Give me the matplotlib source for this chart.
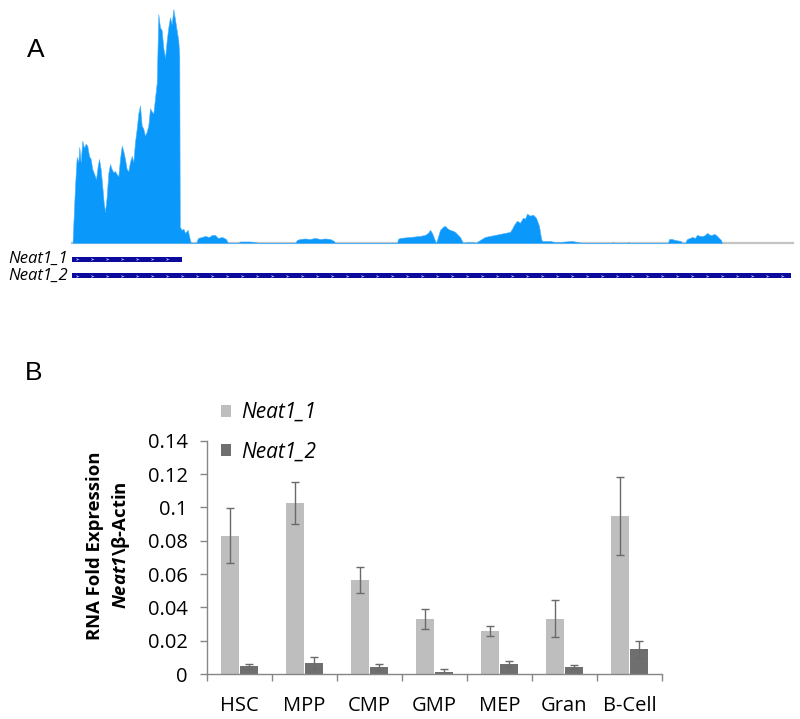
import numpy as np
import matplotlib
matplotlib.use("Agg")
import matplotlib.pyplot as plt
from matplotlib.patches import Patch

plt.rcParams['font.family'] = ['Open Sans', 'DejaVu Sans']
plt.rcParams['mathtext.fontset'] = 'custom'
plt.rcParams['mathtext.bfit'] = 'Open Sans:bold:italic'
plt.rcParams['mathtext.it'] = 'Open Sans:italic'

# ---------------- Panel A data: coverage track ----------------
coverage_pos = [72.5, 75, 76.7, 78.3, 79.3, 80.7, 82.3, 84, 85.7, 87.3, 89, 90.7, 92.3, 94.3, 96, 97.7,
                99, 100.7, 102.3, 103.7, 105, 106.7, 108.3, 110, 111.7, 113.3, 115, 116.7, 118.3, 120,
                121.7, 123.3, 125, 126.7, 128.3, 130, 131.7, 133.3, 135, 136.7, 138.3, 140, 141.7, 143.3,
                145, 146.7, 148.3, 150, 151.7, 153.3, 155, 156.7, 158.3, 160, 161.7, 163.3, 165, 166.7,
                168.3, 170, 171.7, 173.3, 175, 176.7, 178.3, 179.3, 179.8, 181.7, 183.5, 185, 187.7, 190,
                191, 196, 198, 202, 205, 209, 212, 215, 218, 222, 226, 228, 238, 240, 250, 255, 258,
                295, 297, 300, 305, 310, 315, 320, 325, 330, 334, 335,
                397, 398, 400, 410, 420, 425, 428, 430, 432, 434, 436, 437, 440, 443, 445, 448, 450, 453,
                455, 458, 460, 462, 463, 466, 474, 476, 477, 480, 485, 490, 495, 500, 505, 510, 512, 514,
                517, 520, 523, 525, 527, 530, 533, 536, 539, 541, 542, 550, 555, 560, 565, 572, 578, 582,
                612, 613, 614, 627, 628, 630,
                668, 669, 672, 675, 681, 682, 685, 687, 690, 692, 695, 697, 700, 703, 705, 707, 710, 712,
                714, 716, 719, 721, 722]
coverage_val = [0, 56, 85, 80, 95, 80, 101, 94, 98, 96, 86, 83, 73, 68, 63, 76,
                83, 73, 56, 40, 31, 46, 69, 78, 73, 70, 71, 68, 66, 83,
                96, 91, 83, 73, 71, 80, 86, 80, 100, 113, 128, 136, 116, 113,
                106, 110, 116, 133, 130, 128, 143, 158, 226, 213, 210, 193, 183, 200,
                213, 223, 216, 231, 221, 210, 200, 185, 16, 13, 14, 10, 13, 3,
                0, 0, 5, 6, 7, 6, 8, 8, 5, 6, 4, 0, 0, 1.5, 1.5, 1, 0,
                0, 3, 4, 4.5, 4, 5, 4, 4.5, 4, 2, 0,
                0, 4, 5, 6, 7, 8, 10, 13, 10, 5, 0, 3, 13, 16, 17, 14, 13, 12,
                11, 8, 6, 2, 0, 0.8, 0.8, 0, 1, 3, 6, 7, 8, 9, 10, 11, 14, 18,
                22, 20, 25, 24, 29, 27, 28, 25, 17, 5, 2, 2, 1, 1, 1.5, 2, 1, 0,
                0, 1, 0, 0, 1, 0,
                0, 4, 4, 3, 2, 0, 0, 4, 5, 6, 5, 8, 7, 7, 8, 10, 8, 8,
                9, 8, 5, 3, 0]
track_start, track_end = 72, 793

transcript_names = ['Neat1_1', 'Neat1_2']
transcript_starts = [72, 72]
transcript_ends = [181.5, 791]

# ---------------- Panel B data: bar chart ----------------
categories = ['HSC', 'MPP', 'CMP', 'GMP', 'MEP', 'Gran', 'B-Cell']
neat1_1 = [0.0830, 0.1026, 0.0563, 0.0333, 0.0259, 0.0333, 0.0946]
neat1_1_err = [0.0166, 0.0127, 0.0077, 0.0060, 0.0032, 0.0112, 0.0234]
neat1_2 = [0.0048, 0.0068, 0.0044, 0.0014, 0.0060, 0.0040, 0.0148]
neat1_2_err = [0.0015, 0.0036, 0.0018, 0.0014, 0.0020, 0.0012, 0.0052]
series_labels = ['Neat1_1', 'Neat1_2']
ytick_vals = [0, 0.02, 0.04, 0.06, 0.08, 0.10, 0.12, 0.14]
ytick_labels = ['0', '0.02', '0.04', '0.06', '0.08', '0.1', '0.12', '0.14']

# ---------------- Figure ----------------
W, H = 800, 719
fig = plt.figure(figsize=(W / 100, H / 100), dpi=100)

def rect(x0, y0, x1, y1):
    return [x0 / W, 1 - y1 / H, (x1 - x0) / W, (y1 - y0) / H]

# Panel A coverage
axA = fig.add_axes(rect(72, 6, 793, 243))
axA.fill_between(coverage_pos, 0, coverage_val, color='#0A99FB', linewidth=0.4, edgecolor='#4FB3FC')
axA.plot([track_start, track_end], [0, 0], color='#C4C4C4', lw=1.6, clip_on=False, zorder=0)
axA.set_xlim(track_start, track_end)
axA.set_ylim(0, 234)
axA.axis('off')

# Panel A transcripts
axT = fig.add_axes(rect(72, 251, 793, 284))
for i, (s, e) in enumerate(zip(transcript_starts, transcript_ends)):
    axT.barh(i, e - s, left=s, height=0.3, color='#0A0A9C', linewidth=0)
    chev = np.arange(s + 5, e - 3, 15)
    axT.plot(chev, np.full(len(chev), i), linestyle='none', marker='4', ms=2.5,
             mew=0.5, color='#B8B8FF')
    axT.text(track_start - 4, i, transcript_names[i], ha='right', va='center',
             fontsize=12, style='italic')
axT.set_xlim(track_start, track_end)
axT.set_ylim(1.5, -0.5)
axT.axis('off')

fig.text(36 / W, 1 - 50 / H, 'A', fontsize=19, ha='center', va='center',
         family='Liberation Sans')
fig.text(34 / W, 1 - 373 / H, 'B', fontsize=19, ha='center', va='center',
         family='Liberation Sans')

# Panel B
axB = fig.add_axes(rect(207, 440.7, 662, 674))
x = np.arange(len(categories))
w = 0.275
ekw = dict(ecolor='#6A6A6A', elinewidth=1.0, capsize=3, capthick=1.0)
axB.bar(x - 0.14, neat1_1, width=w, color='#BEBEBE', yerr=neat1_1_err, error_kw=ekw)
axB.bar(x + 0.14, neat1_2, width=w, color='#6F6F6F', yerr=neat1_2_err, error_kw=ekw)
axB.set_xlim(-0.5, len(categories) - 0.5)
axB.set_ylim(0, 0.14)
for sp in ['top', 'right']:
    axB.spines[sp].set_visible(False)
for sp in ['left', 'bottom']:
    axB.spines[sp].set_color('#868686')
    axB.spines[sp].set_linewidth(1.0)
axB.set_yticks(ytick_vals)
axB.set_yticklabels(ytick_labels)
axB.tick_params(axis='y', direction='out', length=5, width=1, color='#868686',
                labelsize=14.5, pad=9)
axB.set_xticks(x)
axB.set_xticklabels(categories)
axB.tick_params(axis='x', which='major', length=0, labelsize=14.5, pad=16)
axB.set_xticks(np.arange(len(categories) + 1) - 0.5, minor=True)
axB.tick_params(axis='x', which='minor', direction='out', length=5, width=1, color='#868686')

fig.text(95 / W, 1 - 546 / H, 'RNA Fold Expression', rotation=90, ha='center', va='center',
         fontsize=13.3, fontweight='bold')
fig.text(121 / W, 1 - 545 / H, r'$\mathbfit{Neat1}$\β-Actin', rotation=90, ha='center',
         va='center', fontsize=13.3, fontweight='bold')

handles = [Patch(facecolor='#BEBEBE', edgecolor='none'), Patch(facecolor='#6F6F6F', edgecolor='none')]
fig.legend(handles, series_labels, loc='upper left', bbox_to_anchor=(221 / W, 1 - 402 / H),
           frameon=False, prop={'size': 15, 'style': 'italic'}, handlelength=0.5,
           handleheight=0.5, handletextpad=0.45, labelspacing=0.9, borderpad=0, borderaxespad=0)

fig.savefig('out.png', dpi=100)
